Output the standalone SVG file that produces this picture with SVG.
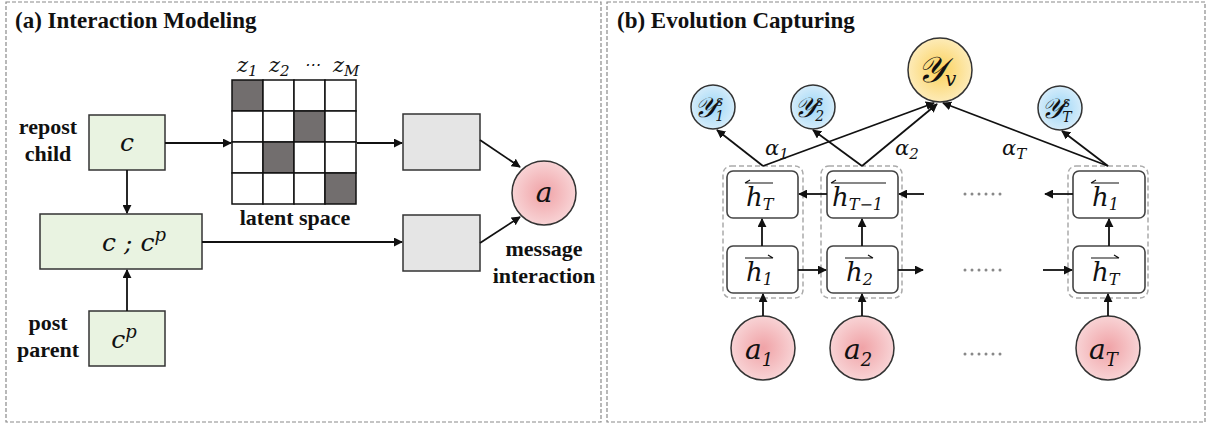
<svg xmlns="http://www.w3.org/2000/svg" width="1207" height="425" viewBox="0 0 1207 425">
<defs>
<style>
.panel{fill:#fff;stroke:#8a8a8a;stroke-width:1.2;stroke-dasharray:4 2}
.title{font-family:"Liberation Serif",serif;font-weight:bold;font-size:23px;fill:#111}
.lbl{font-family:"Liberation Serif",serif;font-weight:bold;font-size:22px;fill:#111}
.math{font-family:"DejaVu Serif","Liberation Serif",serif;font-style:italic;fill:#111}
.green{fill:#e9f3e1;stroke:#333;stroke-width:1.5}
.gray{fill:#e5e5e5;stroke:#333;stroke-width:1.5}
.cell{fill:#fff;stroke:#111;stroke-width:1.5}
.dark{fill:#726e6e;stroke:#111;stroke-width:1.5}
.hbox{fill:#fff;stroke:#444;stroke-width:1.6}
.grp{fill:none;stroke:#aaa;stroke-width:1.5;stroke-dasharray:5 3}
.edge{fill:none;stroke:#111;stroke-width:1.8;marker-end:url(#ah)}
.dots{fill:none;stroke:#888;stroke-width:3;stroke-linecap:round;stroke-dasharray:0 7}
.vec{fill:none;stroke:#111;stroke-width:1.2}
</style>
<marker id="ah" viewBox="0 0 10 10" refX="9" refY="5" markerWidth="5" markerHeight="5" orient="auto-start-reverse">
<path d="M0,0 L10,5 L0,10 z" fill="#111"/>
</marker>
<radialGradient id="pink" cx="50%" cy="50%" r="50%">
<stop offset="0" stop-color="#f0a2a6"/><stop offset="1" stop-color="#f8d3d5"/>
</radialGradient>
<radialGradient id="blue" cx="50%" cy="50%" r="50%">
<stop offset="0" stop-color="#9dd7f7"/><stop offset="1" stop-color="#d5ecfa"/>
</radialGradient>
<radialGradient id="yellow" cx="50%" cy="50%" r="50%">
<stop offset="0" stop-color="#fbd15a"/><stop offset="1" stop-color="#fdebb8"/>
</radialGradient>
</defs>

<rect class="panel" x="6" y="2" width="595" height="420"/>
<rect class="panel" x="607" y="2" width="598" height="420"/>
<text class="title" x="15" y="28">(a) Interaction Modeling</text>
<text class="title" x="617" y="28">(b) Evolution Capturing</text>

<!-- Left panel -->
<g id="box-c">
<rect class="green" x="89" y="115" width="76" height="55"/>
<text class="math" x="127" y="151" font-size="25" text-anchor="middle">c</text>
<text class="lbl" x="48" y="134" text-anchor="middle">repost</text>
<text class="lbl" x="48" y="161" text-anchor="middle">child</text>
</g>
<g id="box-ccp">
<rect class="green" x="40" y="214" width="162" height="55"/>
<text class="math" x="134" y="251" font-size="25" text-anchor="middle">c ; c<tspan font-size="18" dy="-10">p</tspan></text>
</g>
<g id="box-cp">
<rect class="green" x="89" y="311" width="76" height="55"/>
<text class="math" x="124" y="348" font-size="25" text-anchor="middle">c<tspan font-size="18" dy="-10">p</tspan></text>
<text class="lbl" x="48" y="330" text-anchor="middle">post</text>
<text class="lbl" x="48" y="357" text-anchor="middle">parent</text>
</g>
<g id="latent">
<rect class="dark" x="232" y="80" width="31" height="31"/>
<rect class="cell" x="263" y="80" width="31" height="31"/>
<rect class="cell" x="294" y="80" width="31" height="31"/>
<rect class="cell" x="325" y="80" width="31" height="31"/>
<rect class="cell" x="232" y="111" width="31" height="31"/>
<rect class="cell" x="263" y="111" width="31" height="31"/>
<rect class="dark" x="294" y="111" width="31" height="31"/>
<rect class="cell" x="325" y="111" width="31" height="31"/>
<rect class="cell" x="232" y="142" width="31" height="31"/>
<rect class="dark" x="263" y="142" width="31" height="31"/>
<rect class="cell" x="294" y="142" width="31" height="31"/>
<rect class="cell" x="325" y="142" width="31" height="31"/>
<rect class="cell" x="232" y="173" width="31" height="31"/>
<rect class="cell" x="263" y="173" width="31" height="31"/>
<rect class="cell" x="294" y="173" width="31" height="31"/>
<rect class="dark" x="325" y="173" width="31" height="31"/>
<text class="math" x="237" y="72" font-size="21">z<tspan font-size="15" dy="4">1</tspan></text>
<text class="math" x="269" y="72" font-size="21">z<tspan font-size="15" dy="4">2</tspan></text>
<text class="math" x="304" y="70" font-size="16" font-style="normal">⋯</text>
<text class="math" x="333" y="72" font-size="21">z<tspan font-size="15" dy="4">M</tspan></text>
<text class="lbl" x="295" y="225" text-anchor="middle">latent space</text>
</g>
<g id="gray1"><rect class="gray" x="403" y="114" width="77" height="56"/></g>
<g id="gray2"><rect class="gray" x="403" y="215" width="77" height="56"/></g>
<g id="node-a">
<circle cx="544" cy="193" r="32" fill="url(#pink)" stroke="#333" stroke-width="1.5"/>
<text class="math" x="544" y="202" font-size="28" text-anchor="middle">a</text>
<text class="lbl" x="544" y="256" text-anchor="middle">message</text>
<text class="lbl" x="544" y="283" text-anchor="middle">interaction</text>
</g>

<!-- Right panel nodes -->
<g id="y1s">
<circle cx="713" cy="107" r="22" fill="url(#blue)" stroke="#333" stroke-width="1.5"/>
<text class="math" x="694" y="117" font-size="28">𝒴<tspan font-size="14" dy="-11">s</tspan><tspan font-size="14" dx="-8" dy="15">1</tspan></text>
</g>
<g id="y2s">
<circle cx="813" cy="107" r="22" fill="url(#blue)" stroke="#333" stroke-width="1.5"/>
<text class="math" x="794" y="117" font-size="28">𝒴<tspan font-size="14" dy="-11">s</tspan><tspan font-size="14" dx="-8" dy="15">2</tspan></text>
</g>
<g id="yv">
<circle cx="940" cy="70" r="32" fill="url(#yellow)" stroke="#333" stroke-width="1.5"/>
<text class="math" x="917" y="82" font-size="36">𝒴<tspan font-size="20" dy="4">v</tspan></text>
</g>
<g id="yTs">
<circle cx="1060" cy="108" r="22" fill="url(#blue)" stroke="#333" stroke-width="1.5"/>
<text class="math" x="1041" y="118" font-size="28">𝒴<tspan font-size="14" dy="-11">s</tspan><tspan font-size="14" dx="-8" dy="15">T</tspan></text>
</g>

<g id="col1">
<rect class="grp" x="723" y="166" width="80" height="132" rx="8"/>
<rect class="hbox" x="727" y="171" width="71" height="47" rx="6"/>
<rect class="hbox" x="727" y="246" width="71" height="47" rx="6"/>
<text class="math" x="746" y="206" font-size="26">h<tspan font-size="16" dy="4">T</tspan></text>
<path class="vec" d="M745,183 H773 M745,183 l5,-3"/>
<text class="math" x="746" y="281" font-size="26">h<tspan font-size="16" dy="4">1</tspan></text>
<path class="vec" d="M745,258 H773 M773,258 l-5,-3"/>
</g>
<g id="col2">
<rect class="grp" x="821" y="166" width="81" height="132" rx="8"/>
<rect class="hbox" x="827" y="171" width="71" height="47" rx="6"/>
<rect class="hbox" x="827" y="246" width="71" height="47" rx="6"/>
<text class="math" x="832" y="206" font-size="26">h<tspan font-size="16" dy="4">T−1</tspan></text>
<path class="vec" d="M831,183 H886 M831,183 l5,-3"/>
<text class="math" x="846" y="281" font-size="26">h<tspan font-size="16" dy="4">2</tspan></text>
<path class="vec" d="M845,258 H873 M873,258 l-5,-3"/>
</g>
<g id="col3">
<rect class="grp" x="1068" y="166" width="80" height="132" rx="8"/>
<rect class="hbox" x="1073" y="171" width="72" height="47" rx="6"/>
<rect class="hbox" x="1073" y="246" width="72" height="47" rx="6"/>
<text class="math" x="1092" y="206" font-size="26">h<tspan font-size="16" dy="4">1</tspan></text>
<path class="vec" d="M1091,183 H1119 M1091,183 l5,-3"/>
<text class="math" x="1092" y="281" font-size="26">h<tspan font-size="16" dy="4">T</tspan></text>
<path class="vec" d="M1091,258 H1119 M1119,258 l-5,-3"/>
</g>

<g id="a1">
<circle cx="763" cy="348" r="32" fill="url(#pink)" stroke="#333" stroke-width="1.5"/>
<text class="math" x="745" y="359" font-size="28">a<tspan font-size="18" dy="7">1</tspan></text>
</g>
<g id="a2">
<circle cx="862" cy="348" r="32" fill="url(#pink)" stroke="#333" stroke-width="1.5"/>
<text class="math" x="844" y="359" font-size="28">a<tspan font-size="18" dy="7">2</tspan></text>
</g>
<g id="aT">
<circle cx="1108" cy="348" r="32" fill="url(#pink)" stroke="#333" stroke-width="1.5"/>
<text class="math" x="1089" y="359" font-size="28">a<tspan font-size="18" dy="7">T</tspan></text>
</g>

<g id="ellipses">
<path class="dots" d="M965,194 H1007"/>
<path class="dots" d="M965,270 H1007"/>
<path class="dots" d="M965,354 H1007"/>
</g>

<g id="alphas">
<text class="math" x="765" y="155" font-size="21">α<tspan font-size="15" dy="4">1</tspan></text>
<text class="math" x="895" y="155" font-size="21">α<tspan font-size="15" dy="4">2</tspan></text>
<text class="math" x="1002" y="155" font-size="21">α<tspan font-size="15" dy="4">T</tspan></text>
</g>

<g id="connectors">
<path class="edge" d="M165,143 H231"/>
<path class="edge" d="M357,143 H402"/>
<path class="edge" d="M127,170 V213"/>
<path class="edge" d="M127,311 V270"/>
<path class="edge" d="M202,242 H402"/>
<path class="edge" d="M480,140 L520,167"/>
<path class="edge" d="M480,243 L520,217"/>
<path class="edge" d="M763,316 V294"/>
<path class="edge" d="M862,316 V294"/>
<path class="edge" d="M1108,316 V294"/>
<path class="edge" d="M762,246 V219"/>
<path class="edge" d="M862,246 V219"/>
<path class="edge" d="M1109,246 V219"/>
<path class="edge" d="M798,270 H826"/>
<path class="edge" d="M898,270 H923"/>
<path class="edge" d="M1043,270 H1072"/>
<path class="edge" d="M827,194 H799"/>
<path class="edge" d="M924,194 H899"/>
<path class="edge" d="M1073,194 H1045"/>
<path class="edge" d="M763,166 L717,130"/>
<path class="edge" d="M763,166 L934,103"/>
<path class="edge" d="M862,166 L813,130"/>
<path class="edge" d="M862,166 L937,104"/>
<path class="edge" d="M1108,166 L943,103"/>
<path class="edge" d="M1108,166 L1062,131"/>
</g>
</svg>
